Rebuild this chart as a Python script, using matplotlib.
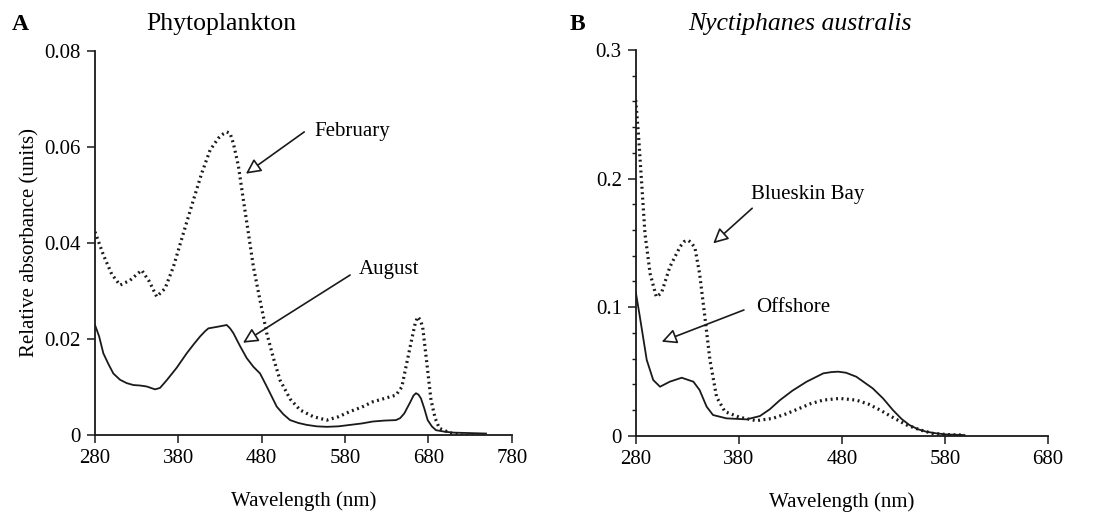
import matplotlib
matplotlib.use("Agg")
import matplotlib.pyplot as plt
from matplotlib.ticker import MultipleLocator

plt.rcParams['font.family'] = ['Liberation Serif', 'DejaVu Serif']

# Panel A - phytoplankton (February dotted, August solid)
feb_wl = [280, 290, 300, 310, 322, 336, 345, 354, 364, 374, 386, 398, 408, 418, 428, 434, 438,
          442, 446, 452, 458, 464, 470, 478, 486, 494, 502, 514, 526, 542, 558, 572, 586, 600,
          613, 627, 641, 648, 653, 660, 664, 667, 670, 673, 678, 683, 688, 693, 705, 717, 733, 749]
feb_abs = [0.0423, 0.0375, 0.0335, 0.0312, 0.0322, 0.0343, 0.0320, 0.0288, 0.0305, 0.0350, 0.0420,
           0.0489, 0.0545, 0.0593, 0.0618, 0.0627, 0.0631, 0.0628, 0.0607, 0.0560, 0.0489, 0.0420,
           0.0350, 0.0280, 0.0212, 0.0160, 0.0114, 0.0075, 0.0052, 0.0038, 0.0031, 0.0038, 0.0049,
           0.0058, 0.0069, 0.0076, 0.0083, 0.0100, 0.0142, 0.0200, 0.0232, 0.0246, 0.0240, 0.0225,
           0.0150, 0.0073, 0.0035, 0.0014, 0.0005, 0.0000, -0.0002, -0.0002]

aug_wl = [280, 285, 290, 296, 302, 310, 318, 326, 334, 342, 352, 358, 366, 378, 390, 398, 406,
          412, 416, 426, 432, 438, 442, 446, 454, 462, 470, 478, 486, 492, 498, 506, 514, 524,
          534, 546, 558, 572, 586, 600, 613, 627, 641, 646, 651, 658, 662, 665, 668, 671, 675,
          679, 684, 689, 699, 709, 729, 749]
aug_abs = [0.0229, 0.0205, 0.0170, 0.0148, 0.0128, 0.0115, 0.0108, 0.0104, 0.0103, 0.0101, 0.0095,
           0.0098, 0.0114, 0.0140, 0.0170, 0.0188, 0.0205, 0.0216, 0.0222, 0.0225, 0.0227, 0.0229,
           0.0222, 0.0212, 0.0185, 0.0160, 0.0142, 0.0128, 0.0101, 0.0080, 0.0059, 0.0043, 0.0031,
           0.0025, 0.0021, 0.0018, 0.0017, 0.0018, 0.0021, 0.0024, 0.0028, 0.0030, 0.0031, 0.0035,
           0.0045, 0.0068, 0.0082, 0.0087, 0.0084, 0.0076, 0.0055, 0.0031, 0.0018, 0.0010, 0.0007,
           0.0005, 0.0004, 0.0003]

# Panel B - Nyctiphanes australis (Blueskin Bay dotted, Offshore solid)
bay_wl = [280, 282.6, 285.8, 289, 294, 300, 305, 313, 323, 327, 331, 334, 337.5, 342, 347, 352,
          358.5, 366.6, 381, 397, 413, 426, 439, 450, 462, 478, 494, 506, 517, 530, 543, 556,
          568, 584, 599]
bay_abs = [0.261, 0.235, 0.196, 0.157, 0.126, 0.108, 0.111, 0.131, 0.147, 0.151, 0.152, 0.150,
           0.146, 0.126, 0.093, 0.059, 0.030, 0.0187, 0.0143, 0.0117, 0.0135, 0.0170, 0.0213,
           0.0250, 0.0277, 0.0290, 0.0277, 0.0245, 0.0200, 0.0140, 0.0083, 0.0045, 0.0018,
           0.0008, 0.0005]

off_wl = [280, 284, 290.7, 297, 303.6, 313, 324.6, 336, 342, 348.8, 355, 368, 387.6, 400.5, 410,
          420, 432, 445.8, 462, 470, 476.4, 484, 494, 510, 520, 529.5, 538, 545.6, 554, 562, 572,
          581, 599]
off_abs = [0.112, 0.0926, 0.0589, 0.0433, 0.0381, 0.042, 0.0451, 0.042, 0.0355, 0.0226, 0.0161,
           0.0135, 0.0127, 0.0153, 0.0205, 0.0277, 0.0350, 0.042, 0.0485, 0.0495, 0.0498, 0.0490,
           0.0459, 0.0368, 0.0290, 0.0200, 0.0130, 0.0083, 0.0050, 0.0031, 0.0018, 0.0010, 0.0005]

fig = plt.figure(figsize=(10.97, 5.16), dpi=100)
axA = fig.add_axes([0.0866, 0.157, 0.380, 0.7447])
axB = fig.add_axes([0.5795, 0.1556, 0.3758, 0.7475])

ink = '#1a1a1a'
fs = 15
arrow = dict(arrowstyle='-|>,head_length=0.9,head_width=0.45', fc='white', ec=ink, lw=1.2,
             shrinkA=0, shrinkB=0)

axA.plot(feb_wl, feb_abs, color=ink, lw=2.3, ls=(0, (0.6, 1.1)))
axA.plot(aug_wl, aug_abs, color=ink, lw=1.3)
axA.set_xlim(280, 780)
axA.set_ylim(0, 0.08)
axA.set_xticks([280, 380, 480, 580, 680, 780])
axA.set_yticks([0, 0.02, 0.04, 0.06, 0.08])
axA.set_yticklabels(['0', '0.02', '0.04', '0.06', '0.08'])
axA.set_ylabel('Relative absorbance (units)', fontsize=fs, labelpad=4)
axA.annotate('', xy=(461, 0.0544), xytext=(531, 0.0631), arrowprops=arrow)
axA.text(543, 0.0631, 'February', fontsize=fs, va='center', ha='left')
axA.annotate('', xy=(457.5, 0.0192), xytext=(586, 0.0333), arrowprops=arrow)
axA.text(596, 0.0345, 'August', fontsize=fs, va='center', ha='left')

axB.plot(bay_wl, bay_abs, color=ink, lw=2.3, ls=(0, (0.6, 1.1)))
axB.plot(off_wl, off_abs, color=ink, lw=1.3)
axB.set_xlim(280, 680)
axB.set_ylim(0, 0.3)
axB.set_xticks([280, 380, 480, 580, 680])
axB.set_yticks([0, 0.1, 0.2, 0.3])
axB.set_yticklabels(['0', '0.1', '0.2', '0.3'])
axB.yaxis.set_minor_locator(MultipleLocator(0.02))
axB.annotate('', xy=(355.2, 0.1496), xytext=(393, 0.1769), arrowprops=arrow)
axB.text(392, 0.1875, 'Blueskin Bay', fontsize=fs, va='center', ha='left')
axB.annotate('', xy=(305.2, 0.0731), xytext=(385, 0.0978), arrowprops=arrow)
axB.text(397, 0.0995, 'Offshore', fontsize=fs, va='center', ha='left')

for ax in (axA, axB):
    for s in ('top', 'right'):
        ax.spines[s].set_visible(False)
    for s in ('left', 'bottom'):
        ax.spines[s].set_color(ink)
        ax.spines[s].set_linewidth(1.3)
    ax.tick_params(which='major', direction='out', length=6, width=1.1, color=ink,
                   labelsize=fs, pad=4)
    ax.tick_params(which='minor', direction='out', length=3, width=1.0, color=ink)
    ax.set_xlabel('Wavelength (nm)', fontsize=fs, labelpad=17)

fig.text(0.011, 0.953, 'A', fontsize=17, fontweight='bold', va='center')
fig.text(0.2015, 0.953, 'Phytoplankton', fontsize=18.5, va='center', ha='center')
fig.text(0.519, 0.953, 'B', fontsize=17, fontweight='bold', va='center')
fig.text(0.729, 0.953, 'Nyctiphanes australis', fontsize=18.5, style='italic',
         va='center', ha='center')

fig.savefig('out.png', dpi=100)
